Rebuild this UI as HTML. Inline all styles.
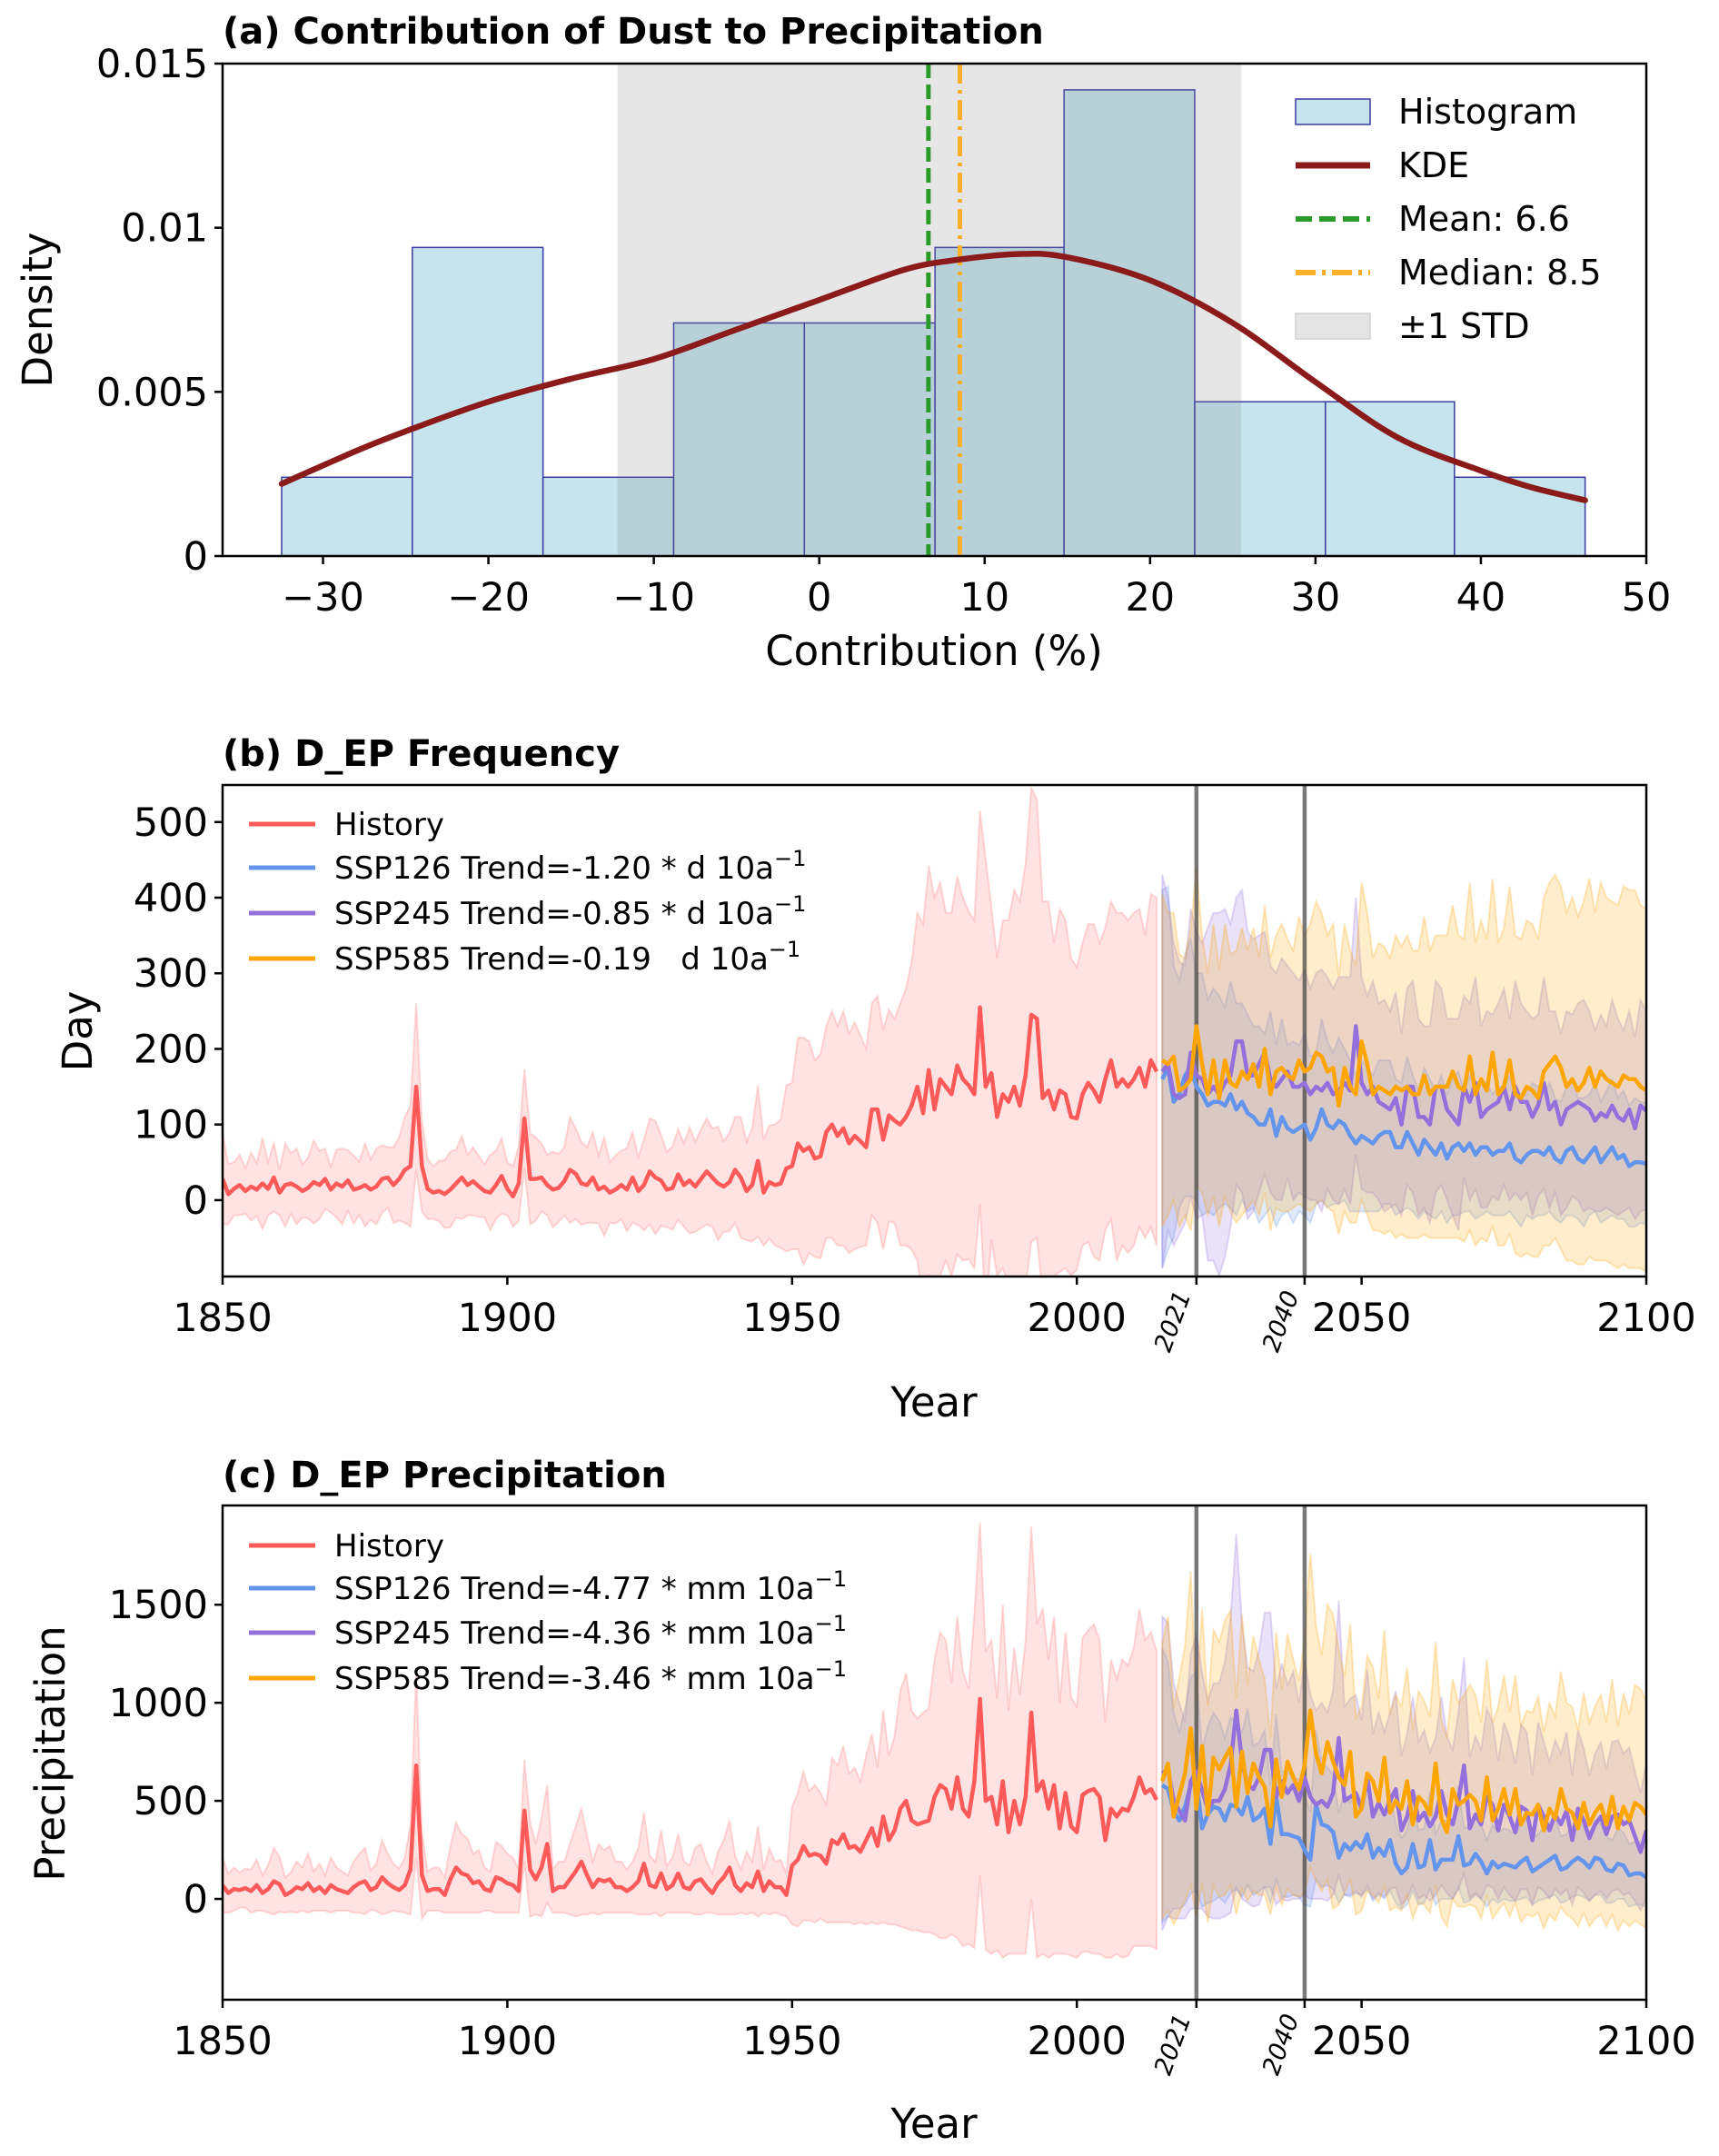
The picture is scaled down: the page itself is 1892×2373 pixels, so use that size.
<!DOCTYPE html>
<html><head><meta charset="utf-8"><style>
html,body{margin:0;padding:0;background:#fff;}
svg{display:block;font-family:"DejaVu Sans","Liberation Sans",sans-serif;}
</style></head><body>
<svg id="fig" width="1892" height="2373" viewBox="0 0 1892 2373" xmlns="http://www.w3.org/2000/svg">
<rect width="1892" height="2373" fill="#fff"/>
<g id="pa"></g>
<g id="pb"></g>
<g id="pc"></g>
<g id="static" font-family="DejaVu Sans, Liberation Sans, sans-serif">
<text x="245" y="48" font-size="40" font-weight="bold">(a) Contribution of Dust to Precipitation</text>
<text x="245" y="843" font-size="40" font-weight="bold">(b) D_EP Frequency</text>
<text x="245" y="1637" font-size="40" font-weight="bold">(c) D_EP Precipitation</text>
<text x="1028" y="732" font-size="45" text-anchor="middle">Contribution (%)</text>
<text transform="translate(57,341) rotate(-90)" font-size="45" text-anchor="middle">Density</text>
<text x="1028" y="1559" font-size="45" text-anchor="middle">Year</text>
<text transform="translate(101,1135) rotate(-90)" font-size="45" text-anchor="middle">Day</text>
<text x="1028" y="2353" font-size="45" text-anchor="middle">Year</text>
<text transform="translate(71,1930) rotate(-90)" font-size="45" text-anchor="middle">Precipitation</text>
<g>
<rect x="1426" y="109" width="82" height="28" fill="#c6e4ee" stroke="#3a3aa0" stroke-width="1.5"/>
<text x="1539" y="136" font-size="38">Histogram</text>
<line x1="1426" y1="182" x2="1508" y2="182" stroke="#8b1a1a" stroke-width="7"/>
<text x="1539" y="195" font-size="38">KDE</text>
<line x1="1426" y1="241" x2="1508" y2="241" stroke="#2a9a2a" stroke-width="6" stroke-dasharray="18,8"/>
<text x="1539" y="254" font-size="38">Mean: 6.6</text>
<line x1="1426" y1="300" x2="1508" y2="300" stroke="#ffb02a" stroke-width="6" stroke-dasharray="22,7,4,7"/>
<text x="1539" y="313" font-size="38">Median: 8.5</text>
<rect x="1426" y="345" width="82" height="28" fill="#e4e4e4" stroke="#d0d0d0" stroke-width="1.5"/>
<text x="1539" y="372" font-size="38">±1 STD</text>
</g>
<g font-size="34">
<line x1="274" y1="907" x2="347" y2="907" stroke="#ff5a5a" stroke-width="5"/>
<text x="368" y="919">History</text>
<line x1="274" y1="955" x2="347" y2="955" stroke="#6495ed" stroke-width="5"/>
<text x="368" y="967">SSP126 Trend=-1.20 * d 10a<tspan font-size="24" dy="-14">−1</tspan></text>
<line x1="274" y1="1005" x2="347" y2="1005" stroke="#9370db" stroke-width="5"/>
<text x="368" y="1017">SSP245 Trend=-0.85 * d 10a<tspan font-size="24" dy="-14">−1</tspan></text>
<line x1="274" y1="1055" x2="347" y2="1055" stroke="#ffa500" stroke-width="5"/>
<text x="368" y="1067" xml:space="preserve">SSP585 Trend=-0.19   d 10a<tspan font-size="24" dy="-14">−1</tspan></text>
</g>
<g font-size="34">
<line x1="274" y1="1701" x2="347" y2="1701" stroke="#ff5a5a" stroke-width="5"/>
<text x="368" y="1713">History</text>
<line x1="274" y1="1748" x2="347" y2="1748" stroke="#6495ed" stroke-width="5"/>
<text x="368" y="1760">SSP126 Trend=-4.77 * mm 10a<tspan font-size="24" dy="-14">−1</tspan></text>
<line x1="274" y1="1797" x2="347" y2="1797" stroke="#9370db" stroke-width="5"/>
<text x="368" y="1809">SSP245 Trend=-4.36 * mm 10a<tspan font-size="24" dy="-14">−1</tspan></text>
<line x1="274" y1="1847" x2="347" y2="1847" stroke="#ffa500" stroke-width="5"/>
<text x="368" y="1859">SSP585 Trend=-3.46 * mm 10a<tspan font-size="24" dy="-14">−1</tspan></text>
</g>
</g>
</svg>
<script>
const binEdges = [-32.5,-24.6,-16.7,-8.8,-0.9,7.0,14.8,22.7,30.6,38.4,46.3];
const binDensity = [0.0024,0.0094,0.0024,0.0071,0.0071,0.0094,0.0142,0.0047,0.0047,0.0024];
const kdeX = [-32.5,-28,-25,-20,-15,-10,-5,0,5,8,12,15,20,25,30,35,40,43,46.3];
const kdeY = [0.0022,0.0032,0.0038,0.0047,0.0054,0.0060,0.0069,0.0078,0.0087,0.0090,0.0092,0.0091,0.0084,0.0071,0.0053,0.0036,0.0026,0.0021,0.0017];
const meanVal = 6.6;
const medianVal = 8.5;
const stdLow = -12.2;
const stdHigh = 25.5;
const aXTicks = [-30,-20,-10,0,10,20,30,40,50];
const aYTicks = [0,0.005,0.01,0.015];
const aYTickLabels = ["0","0.005","0.01","0.015"];

const histStart = 1850;
const futStart = 2015;
const yearTicks = [1850,1900,1950,2000,2050,2100];
const markYears = [2021,2040];
const bYTicks = [0,100,200,300,400,500];
const cYTicks = [0,500,1000,1500];

const histB = [28,8,15,20,12,18,14,22,15,30, 10,20,22,18,12,16,24,20,28,14, 22,18,26,14,16,20,14,18,28,30,
20,28,40,45,150,45,15,10,12,8, 14,22,30,20,25,18,12,10,20,32, 15,5,22,108,28,28,30,20,14,16,
25,40,35,22,20,30,14,18,10,14, 20,14,30,12,20,38,30,26,14,16, 34,20,26,18,28,38,30,22,18,24,
40,30,12,20,52,10,24,20,22,42, 45,75,65,70,55,58,90,100,85,95, 75,85,78,70,120,120,80,112,105,100,
110,125,150,115,172,120,160,150,140,178, 160,152,140,255,150,168,110,140,130,150, 125,165,245,240,135,145,120,145,140,110,
108,140,155,145,130,160,185,150,160,150, 160,175,150,185,170];
const histSdB = [60,40,35,40,30,45,35,60,35,45, 30,55,40,50,35,40,55,45,40,30, 45,50,40,45,35,55,40,50,45,40,
50,55,70,80,110,60,40,35,40,45, 50,45,55,40,45,40,35,50,45,50, 35,40,50,65,60,55,45,40,50,45,
45,70,60,55,50,60,45,65,40,45, 45,55,60,45,60,70,75,60,50,55, 60,55,70,60,65,70,65,75,60,65,
70,80,65,75,100,70,75,80,85,110, 110,140,150,140,130,135,140,150,145,155, 145,150,140,130,140,150,145,140,135,160,
170,190,230,250,270,280,260,230,240,250, 240,230,230,260,300,220,210,230,240,260, 270,280,300,290,260,250,220,240,230,210,
200,200,210,220,210,200,210,230,220,220, 220,210,200,220,230];
const s126B = [160,175,130,140,165,175,150,140,125,130, 130,125,140,120,130,115,110,100,100,120, 85,110,95,90,95,100,80,95,120,100,
95,105,100,85,75,85,80,75,85,90, 90,70,70,90,75,60,80,70,60,75, 55,70,75,65,75,60,70,70,60,65,
65,75,55,50,60,65,65,60,70,55, 50,65,70,55,50,60,70,50,60,70, 55,60,45,50,50,48];
const s245B = [170,180,140,135,140,195,165,160,140,150, 140,155,165,210,210,165,165,180,195,160, 150,160,170,150,150,155,140,150,145,155,
140,145,155,145,230,155,140,150,130,125, 120,135,100,150,150,110,110,100,150,150, 120,110,100,150,130,155,110,120,125,130,
150,120,150,130,130,110,125,155,120,130, 100,120,125,130,125,120,105,115,110,125, 110,105,120,95,125,118];
const s585B = [185,180,190,145,150,160,230,180,140,185, 135,185,155,150,170,160,180,150,200,140, 170,175,165,160,185,170,175,195,190,170,
175,125,175,150,140,210,180,140,150,145, 140,150,145,150,140,140,165,140,150,150, 150,170,150,145,190,140,160,145,195,140,
150,185,140,135,150,145,135,170,180,190, 175,150,160,145,155,175,150,170,160,155, 150,165,160,160,150,145];
const sd126B = [250,240,180,150,160,170,150,160,140,150, 140,130,150,140,130,130,120,130,120,130, 120,130,110,120,110,120,110,100,120,110,
100,110,100,100,90,100,95,90,100,95, 95,90,85,100,90,85,95,90,85,90, 85,90,95,80,90,85,90,85,80,85,
85,90,80,85,80,90,85,80,85,80, 80,85,90,80,85,80,85,80,85,90, 80,85,80,85,80,80];
const sd245B = [260,220,200,180,170,190,190,180,220,230, 240,230,200,190,200,190,180,170,160,150, 150,160,140,150,140,150,140,150,160,140,
140,150,140,150,170,140,130,140,130,140, 130,140,120,130,140,130,120,130,140,130, 120,130,140,120,130,140,120,130,120,130,
130,120,140,130,120,130,120,140,130,120, 120,130,120,130,140,130,120,130,120,140, 130,120,130,120,140,130];
const sd585B = [220,200,190,180,170,200,210,170,160,180, 170,180,170,180,190,170,180,170,190,180, 180,190,180,170,190,180,190,200,190,180,
190,170,190,180,170,210,200,180,190,190, 180,200,190,200,190,190,210,190,200,200, 200,220,200,200,230,200,210,200,230,200,
210,230,210,210,220,220,210,230,240,240, 240,230,240,230,240,250,230,250,240,240, 240,250,250,250,240,240];

const histC = [70,30,50,45,55,40,70,30,50,90, 75,20,35,60,50,80,40,60,30,70, 50,40,30,60,80,90,45,60,110,80,
60,45,70,150,680,120,40,50,50,20, 100,160,130,120,80,90,50,40,110,100, 80,70,40,450,150,100,160,280,40,60,
60,100,140,190,120,60,100,90,100,60, 60,40,60,90,180,70,60,130,50,70, 130,60,50,90,100,60,30,80,110,160,
70,40,80,60,140,40,90,60,60,20, 170,200,270,220,230,220,180,300,280,330, 260,270,240,300,360,270,420,300,350,460,
500,400,380,390,400,520,580,560,460,620, 460,420,600,1020,500,520,380,600,340,500, 380,520,950,550,600,460,580,360,540,370,
340,530,550,560,520,300,460,420,460,450, 520,620,540,560,505];
const histSdC = [140,100,110,90,100,110,130,90,120,170, 140,90,100,130,110,150,100,120,90,140, 110,100,90,130,150,170,100,120,190,150,
120,110,140,230,470,220,100,110,110,90, 170,230,200,190,150,160,110,100,180,170, 150,140,110,260,240,180,250,300,110,130,
130,180,230,270,200,130,180,160,170,130, 130,110,130,170,260,150,130,220,120,140, 200,130,120,170,180,130,100,160,190,240,
150,110,160,130,230,110,170,130,140,110, 300,340,380,330,350,320,300,420,400,450, 380,400,360,430,480,400,540,430,480,600,
650,560,540,560,570,700,780,760,640,820, 700,650,850,900,760,800,640,900,620,780, 660,800,950,850,880,760,860,640,820,660,
640,800,820,840,800,600,760,700,760,740, 760,860,780,800,760];
const s126C = [580,560,450,400,470,580,600,360,430,470, 460,400,480,470,430,520,400,420,460,280, 520,330,330,320,310,250,200,480,380,370,
340,210,280,250,290,260,330,210,260,220, 300,180,130,160,280,160,170,300,150,200, 200,200,320,170,180,230,190,130,190,160,
180,170,160,190,210,140,160,180,200,220, 150,160,190,210,190,160,210,200,150,140, 180,170,120,130,130,110];
const s245C = [640,660,500,450,400,600,650,550,460,500, 500,560,680,960,700,580,560,620,760,760, 520,600,540,580,500,620,520,480,500,470,
540,820,500,520,540,460,620,420,490,430, 500,560,350,420,550,400,440,370,420,550, 430,380,500,680,360,430,380,520,480,350,
480,420,340,470,450,300,480,420,350,430, 380,450,300,460,400,310,380,420,330,420, 430,380,400,320,240,350];
const s585C = [600,690,420,530,640,870,460,780,430,720, 660,720,770,470,750,540,690,620,570,370, 710,520,700,620,560,680,960,740,640,800,
700,620,580,750,420,460,640,600,500,720, 440,500,460,600,380,520,490,430,690,410, 340,560,480,500,530,500,400,620,400,460,
560,430,560,380,440,430,480,350,460,410, 560,460,440,360,490,380,440,480,380,520, 360,470,400,490,470,430];
const sd126C = [700,650,500,450,500,550,560,400,450,480, 450,420,450,420,420,450,380,380,400,300, 420,320,320,300,300,280,240,380,320,300,
290,230,260,240,260,240,280,220,240,220, 260,200,180,190,240,190,190,250,180,200, 200,200,260,190,190,210,190,170,190,180,
180,180,170,190,200,170,170,180,190,200, 170,170,180,190,180,170,190,180,170,160, 180,170,160,160,160,150];
const sd245C = [800,750,600,550,500,650,700,600,550,600, 600,650,750,900,700,600,600,650,700,700, 550,600,550,580,500,600,520,480,500,480,
520,700,480,500,500,450,550,420,460,420, 450,500,380,420,480,400,420,380,400,480, 400,380,450,550,360,400,380,450,420,350,
420,400,350,420,400,330,420,380,350,380, 360,400,330,400,370,320,360,380,330,380, 380,360,370,330,300,340];
const sd585C = [700,750,550,600,650,800,550,700,550,650, 650,700,700,550,700,550,650,600,550,450, 650,550,650,600,550,650,800,650,600,700,
750,650,550,650,500,520,600,580,520,650, 500,540,520,580,480,540,520,500,620,500, 480,560,520,540,560,540,500,600,500,520,
580,520,580,500,520,520,550,500,540,520, 600,540,540,500,560,520,540,560,520,600, 520,580,540,600,600,580];

const NS='http://www.w3.org/2000/svg';
function mk(tag, attrs, parent){
  const e=document.createElementNS(NS,tag);
  for(const k in attrs) e.setAttribute(k,attrs[k]);
  parent.appendChild(e); return e;
}
function lin(d0,d1,r0,r1){return v=>r0+(v-d0)*(r1-r0)/(d1-d0);}

(function(){
  const g=document.getElementById('pa');
  const L=245,R=1812,T=70,B=612;
  const x=lin(-36.07,50,L,R), y=lin(0,0.015,B,T);
  for(let i=0;i<binDensity.length;i++){
    const r=mk('rect',{x:x(binEdges[i]),y:y(binDensity[i]),width:x(binEdges[i+1])-x(binEdges[i]),height:B-y(binDensity[i]),fill:'#c6e4ee',stroke:'#3a3aa0','stroke-width':1.5},g);
    
    
  }
  const s=mk('rect',{x:x(stdLow),y:T,width:x(stdHigh)-x(stdLow),height:B-T,fill:'#808080','fill-opacity':0.2},g);
  
  
  const mean=mk('line',{x1:x(meanVal),x2:x(meanVal),y1:T,y2:B,stroke:'#2a9a2a','stroke-width':5,'stroke-dasharray':'16,7'},g);
  
  
  const med=mk('line',{x1:x(medianVal),x2:x(medianVal),y1:T,y2:B,stroke:'#ffb02a','stroke-width':5,'stroke-dasharray':'22,7,4,7'},g);
  
  
  const pts=kdeX.map((v,i)=>[x(v),y(kdeY[i])]);
  let d='M'+pts[0][0].toFixed(1)+','+pts[0][1].toFixed(1);
  for(let i=0;i<pts.length-1;i++){
    const p0=pts[Math.max(0,i-1)],p1=pts[i],p2=pts[i+1],p3=pts[Math.min(pts.length-1,i+2)];
    const c1=[p1[0]+(p2[0]-p0[0])/6,p1[1]+(p2[1]-p0[1])/6];
    const c2=[p2[0]-(p3[0]-p1[0])/6,p2[1]-(p3[1]-p1[1])/6];
    d+='C'+c1[0].toFixed(1)+','+c1[1].toFixed(1)+' '+c2[0].toFixed(1)+','+c2[1].toFixed(1)+' '+p2[0].toFixed(1)+','+p2[1].toFixed(1);
  }
  const k=mk('path',{d:d,fill:'none',stroke:'#8b1a1a','stroke-width':6.5,'stroke-linejoin':'round','stroke-linecap':'round'},g);
  
  
  const fr=mk('rect',{x:L,y:T,width:R-L,height:B-T,fill:'none',stroke:'#000','stroke-width':2.5},g);
  
  
  aXTicks.forEach(v=>{
    const t=mk('line',{x1:x(v),x2:x(v),y1:B,y2:B+9,stroke:'#000','stroke-width':2.5},g);
    
    
    const lb=mk('text',{x:x(v),y:B+60,'font-size':43,'text-anchor':'middle'},g);
    lb.textContent=(v<0?'−':'')+Math.abs(v);
    
    
  });
  aYTicks.forEach((v,i)=>{
    const t=mk('line',{x1:L-9,x2:L,y1:y(v),y2:y(v),stroke:'#000','stroke-width':2.5},g);
    
    
    const lb=mk('text',{x:L-16,y:y(v)+15,'font-size':43,'text-anchor':'end'},g);
    lb.textContent=aYTickLabels[i];
    
    
  });
})();

function tsPanel(id,T,B,yTop,yBot,yTicks,hist,histSd,fut,futSd,tag){
  const g=document.getElementById(id);
  const L=245,R=1812;
  const x=lin(1850,2100,L,R), y=lin(yBot,yTop,B,T);
  const clip=mk('clipPath',{id:'clip-'+tag},g);
  mk('rect',{x:L,y:T,width:R-L,height:B-T},clip);
  const inner=mk('g',{'clip-path':'url(#clip-'+tag+')'},g);
  const colors=['#6495ed','#9370db','#ffa500'];
  const names=['ssp126','ssp245','ssp585'];
  function band(vals,sds,start,col,name){
    let up='',lo='';
    vals.forEach((v,i)=>{up+=(i?'L':'M')+x(start+i).toFixed(1)+','+y(v+sds[i]).toFixed(1);});
    for(let i=vals.length-1;i>=0;i--){lo+='L'+x(start+i).toFixed(1)+','+y(vals[i]-sds[i]).toFixed(1);}
    const p=mk('path',{d:up+lo+'Z',fill:col,'fill-opacity':0.2,stroke:col,'stroke-opacity':0.25,'stroke-width':2},inner);
    
    
  }
  function line(vals,start,col,name){
    let d='';
    vals.forEach((v,i)=>{d+=(i?'L':'M')+x(start+i).toFixed(1)+','+y(v).toFixed(1);});
    const p=mk('path',{d:d,fill:'none',stroke:col,'stroke-width':4.5,'stroke-linejoin':'round'},inner);
    
    
  }
  band(hist,histSd,histStart,'#ff7070','history');
  fut.forEach((f,i)=>band(f,futSd[i],futStart,colors[i],names[i]));
  markYears.forEach(yr=>{
    const m=mk('line',{x1:x(yr),x2:x(yr),y1:T,y2:B,stroke:'#404040','stroke-opacity':0.7,'stroke-width':4.5},inner);
    
    
  });
  line(hist,histStart,'#ff5a5a','history');
  fut.forEach((f,i)=>line(f,futStart,colors[i],names[i]));
  const fr=mk('rect',{x:L,y:T,width:R-L,height:B-T,fill:'none',stroke:'#000','stroke-width':2.5},g);
  
  
  yearTicks.forEach(v=>{
    const t=mk('line',{x1:x(v),x2:x(v),y1:B,y2:B+9,stroke:'#000','stroke-width':2.5},g);
    
    
    const lb=mk('text',{x:x(v),y:B+60,'font-size':43,'text-anchor':'middle'},g);
    lb.textContent=String(v);
    
    
  });
  markYears.forEach(v=>{
    const t=mk('line',{x1:x(v),x2:x(v),y1:B,y2:B+9,stroke:'#000','stroke-width':2.5},g);
    
    
    const lb=mk('text',{transform:'translate('+(x(v)-6)+','+(B+20)+') rotate(-70)','font-size':27,'font-style':'italic','text-anchor':'end'},g);
    lb.textContent=String(v);
    
    
  });
  yTicks.forEach(v=>{
    const t=mk('line',{x1:L-9,x2:L,y1:y(v),y2:y(v),stroke:'#000','stroke-width':2.5},g);
    
    
    const lb=mk('text',{x:L-16,y:y(v)+15,'font-size':43,'text-anchor':'end'},g);
    lb.textContent=String(v);
    
    
  });
}
tsPanel('pb',864,1405,549,-101,bYTicks,histB,histSdB,[s126B,s245B,s585B],[sd126B,sd245B,sd585B],'b');
tsPanel('pc',1657,2201,2006,-514,cYTicks,histC,histSdC,[s126C,s245C,s585C],[sd126C,sd245C,sd585C],'c');
</script>
</body></html>
